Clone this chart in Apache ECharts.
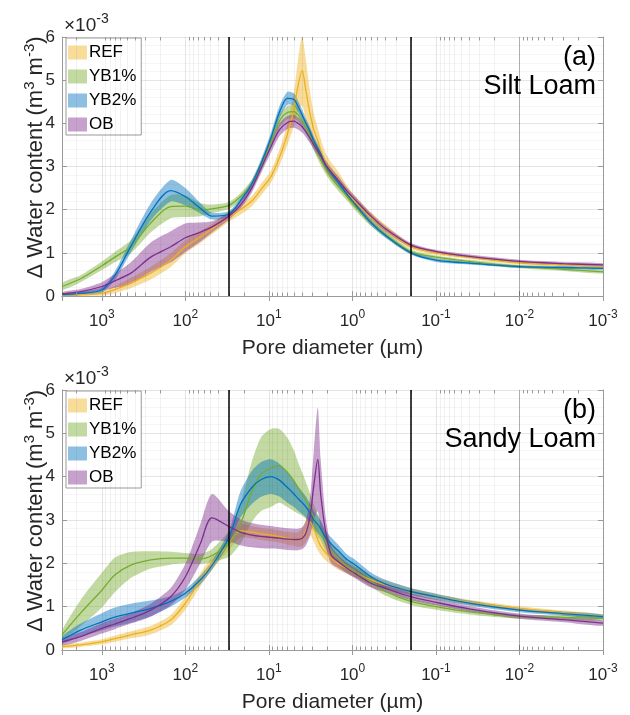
<!DOCTYPE html>
<html>
<head>
<meta charset="utf-8">
<script src="https://cdn.jsdelivr.net/npm/echarts/dist/echarts.min.js"></script>
<style>
  html, body { margin: 0; padding: 0; background: #fff; }
  #chart { width: 630px; height: 715px; }
</style>
</head>
<body>
<div id="chart"></div>
<script>
// pore diameter (µm) where the curves were read
const diameter = [3000, 1800, 1000, 700, 450, 260, 150, 100, 66, 48,
  30, 22, 16, 12.5, 9.5, 7.5, 6, 5, 4.5, 4,
  3.6, 3.2, 2.9, 2.6, 2.4, 2.1, 1.8, 1.5, 1.15, 0.95,
  0.6, 0.4, 0.2, 0.1, 0.04, 0.01, 0.003, 0.001]

// (a) Silt Loam, delta water content x1e-3, mean and spread
const siltRef = [0.02, 0.03, 0.06, 0.15, 0.30, 0.53, 0.83, 1.14, 1.37, 1.55,
  1.84, 2.00, 2.20, 2.46, 2.76, 3.20, 3.75, 4.35, 4.85, 5.22,
  4.75, 4.20, 3.85, 3.60, 3.38, 3.10, 2.90, 2.72, 2.40, 2.20,
  1.82, 1.55, 1.15, 1.00, 0.90, 0.77, 0.72, 0.68]
const siltRefSd = [0.02, 0.03, 0.05, 0.08, 0.12, 0.15, 0.16, 0.15, 0.14, 0.12,
  0.12, 0.12, 0.12, 0.13, 0.14, 0.18, 0.25, 0.40, 0.60, 0.80,
  0.70, 0.50, 0.38, 0.30, 0.26, 0.22, 0.20, 0.18, 0.15, 0.14,
  0.12, 0.10, 0.06, 0.05, 0.04, 0.04, 0.04, 0.04]
const siltYb1 = [0.22, 0.40, 0.70, 0.90, 1.14, 1.69, 2.07, 2.08, 2.00, 2.02,
  2.10, 2.30, 2.60, 3.00, 3.55, 4.05, 4.25, 4.27, 4.20, 4.05,
  3.90, 3.70, 3.50, 3.30, 3.15, 2.95, 2.75, 2.55, 2.30, 2.10,
  1.70, 1.42, 1.03, 0.90, 0.80, 0.68, 0.62, 0.56]
const siltYb1Sd = [0.08, 0.08, 0.10, 0.12, 0.15, 0.22, 0.27, 0.25, 0.15, 0.10,
  0.08, 0.08, 0.10, 0.12, 0.14, 0.15, 0.15, 0.15, 0.15, 0.15,
  0.14, 0.14, 0.13, 0.13, 0.12, 0.12, 0.11, 0.10, 0.10, 0.09,
  0.08, 0.07, 0.05, 0.04, 0.04, 0.04, 0.04, 0.04]
const siltYb2 = [0.03, 0.06, 0.14, 0.47, 1.15, 1.95, 2.44, 2.30, 2.03, 1.85,
  1.90, 2.20, 2.60, 3.05, 3.65, 4.25, 4.58, 4.55, 4.40, 4.20,
  4.00, 3.80, 3.60, 3.42, 3.30, 3.05, 2.85, 2.65, 2.35, 2.15,
  1.70, 1.40, 1.00, 0.83, 0.76, 0.68, 0.66, 0.64]
const siltYb2Sd = [0.03, 0.04, 0.06, 0.10, 0.14, 0.20, 0.25, 0.20, 0.12, 0.08,
  0.07, 0.07, 0.08, 0.10, 0.12, 0.14, 0.15, 0.14, 0.13, 0.12,
  0.11, 0.10, 0.10, 0.10, 0.09, 0.09, 0.08, 0.08, 0.07, 0.07,
  0.06, 0.05, 0.04, 0.04, 0.03, 0.03, 0.03, 0.03]
const siltOb = [0.05, 0.10, 0.22, 0.35, 0.53, 0.90, 1.14, 1.35, 1.48, 1.60,
  1.85, 2.10, 2.50, 2.95, 3.45, 3.85, 4.02, 4.05, 4.00, 3.92,
  3.80, 3.65, 3.50, 3.35, 3.25, 3.05, 2.88, 2.70, 2.42, 2.25,
  1.85, 1.55, 1.18, 1.03, 0.92, 0.80, 0.75, 0.72]
const siltObSd = [0.04, 0.06, 0.10, 0.16, 0.25, 0.34, 0.36, 0.33, 0.22, 0.13,
  0.08, 0.08, 0.10, 0.12, 0.14, 0.15, 0.15, 0.15, 0.14, 0.13,
  0.12, 0.12, 0.11, 0.11, 0.10, 0.10, 0.09, 0.09, 0.08, 0.08,
  0.07, 0.06, 0.05, 0.04, 0.04, 0.04, 0.04, 0.04]

// (b) Sandy Loam
const sandyRef = [0.08, 0.12, 0.19, 0.26, 0.35, 0.46, 0.69, 1.08, 1.62, 2.00,
  2.46, 2.75, 2.72, 2.68, 2.65, 2.62, 2.58, 2.56, 2.55, 2.60,
  2.75, 2.95, 2.80, 2.55, 2.40, 2.25, 2.12, 2.00, 1.88, 1.80,
  1.62, 1.50, 1.35, 1.23, 1.10, 0.96, 0.86, 0.77]
const sandyRefSd = [0.04, 0.05, 0.06, 0.07, 0.08, 0.10, 0.12, 0.15, 0.15, 0.15,
  0.15, 0.15, 0.14, 0.14, 0.14, 0.14, 0.15, 0.15, 0.17, 0.20,
  0.25, 0.30, 0.30, 0.25, 0.20, 0.18, 0.15, 0.14, 0.12, 0.12,
  0.10, 0.10, 0.08, 0.07, 0.06, 0.05, 0.05, 0.05]
const sandyYb1 = [0.35, 0.85, 1.38, 1.73, 1.96, 2.08, 2.12, 2.12, 2.10, 2.18,
  2.45, 2.90, 3.65, 4.05, 4.20, 4.25, 4.10, 3.90, 3.75, 3.60,
  3.45, 3.25, 3.05, 2.88, 2.75, 2.50, 2.30, 2.12, 1.92, 1.82,
  1.58, 1.35, 1.12, 1.00, 0.88, 0.77, 0.75, 0.73]
const sandyYb1Sd = [0.10, 0.30, 0.40, 0.40, 0.30, 0.20, 0.15, 0.12, 0.12, 0.15,
  0.30, 0.45, 0.70, 0.85, 0.90, 0.85, 0.80, 0.70, 0.60, 0.50,
  0.42, 0.35, 0.30, 0.25, 0.22, 0.20, 0.18, 0.15, 0.14, 0.13,
  0.12, 0.10, 0.08, 0.07, 0.06, 0.05, 0.05, 0.05]
const sandyYb2 = [0.23, 0.46, 0.65, 0.76, 0.85, 0.96, 1.12, 1.31, 1.62, 1.95,
  2.60, 3.35, 3.75, 3.93, 4.00, 3.92, 3.75, 3.60, 3.50, 3.40,
  3.30, 3.15, 3.00, 2.90, 2.80, 2.60, 2.45, 2.30, 2.08, 1.98,
  1.69, 1.52, 1.35, 1.23, 1.08, 0.92, 0.84, 0.77]
const sandyYb2Sd = [0.08, 0.15, 0.20, 0.22, 0.22, 0.18, 0.12, 0.10, 0.10, 0.10,
  0.15, 0.30, 0.38, 0.40, 0.40, 0.38, 0.35, 0.30, 0.28, 0.26,
  0.24, 0.22, 0.20, 0.20, 0.18, 0.16, 0.15, 0.14, 0.12, 0.12,
  0.10, 0.10, 0.08, 0.07, 0.06, 0.05, 0.05, 0.05]
const sandyOb = [0.19, 0.31, 0.50, 0.60, 0.73, 0.92, 1.23, 1.69, 2.46, 3.05,
  2.85, 2.72, 2.65, 2.62, 2.60, 2.58, 2.56, 2.55, 2.55, 2.58,
  2.70, 3.10, 3.80, 4.40, 3.60, 2.75, 2.20, 2.05, 1.88, 1.78,
  1.54, 1.42, 1.23, 1.10, 0.95, 0.78, 0.70, 0.62]
const sandyObSd = [0.08, 0.10, 0.12, 0.12, 0.12, 0.15, 0.20, 0.30, 0.45, 0.55,
  0.35, 0.30, 0.28, 0.27, 0.26, 0.25, 0.25, 0.25, 0.25, 0.25,
  0.28, 0.45, 0.80, 1.20, 0.80, 0.35, 0.20, 0.15, 0.12, 0.11,
  0.10, 0.09, 0.08, 0.07, 0.06, 0.06, 0.06, 0.06]

const names = ['REF', 'YB1%', 'YB2%', 'OB']
const colors = ['#EDB120', '#77AC30', '#0072BD', '#7E2F8E']
const xTickExp = [3, 2, 1, 0, -1, -2, -3]
const yTicks = [0, 1, 2, 3, 4, 5, 6]
const boundaries = [30, 0.2]
const panelTags = ['(a)', '(b)']
const panelSoils = ['Silt Loam', 'Sandy Loam']

const font = 'Liberation Sans'
const axisGray = '#9a9a9a'
const textColor = '#262626'
const gridTops = [37, 390]
const gridHeights = [259, 260]

function fade(hex, a) {
  const n = parseInt(hex.slice(1), 16)
  return 'rgba(' + (n >> 16) + ',' + ((n >> 8) & 255) + ',' + (n & 255) + ',' + a + ')'
}

function toPairs(values) {
  return diameter.map((d, i) => [d, values[i]])
}

// minor decade positions (2..9 x 10^k) for the faint grid and small ticks
const minorX = []
for (let k = -3; k <= 3; k++) {
  for (let m = 2; m <= 9; m++) {
    const v = m * Math.pow(10, k)
    if (v < 3000) minorX.push(v)
  }
}

function decadeLabel(value) {
  const lg = Math.log10(value)
  const e = Math.round(lg)
  if (Math.abs(lg - e) > 1e-6 || xTickExp.indexOf(e) < 0) return ''
  return '{b|10}{s|' + e + '}'
}

function curveSeries(panel, k, mean, sd) {
  const axes = { xAxisIndex: panel * 2, yAxisIndex: panel * 2 }
  const band = {
    type: 'custom',
    name: names[k],
    silent: true,
    clip: true,
    data: toPairs(mean),
    renderItem(params, api) {
      if (params.dataIndex !== 0) return null
      const upper = diameter.map((d, i) => api.coord([d, mean[i] + sd[i]]))
      const lower = diameter.map((d, i) => api.coord([d, Math.max(0, mean[i] - sd[i])]))
      return {
        type: 'polygon',
        shape: { points: upper.concat(lower.reverse()), smooth: 0.25 },
        style: { fill: fade(colors[k], 0.45) }
      }
    }
  }
  const line = {
    type: 'line',
    name: names[k] + ' mean',
    silent: true,
    symbol: 'none',
    smooth: 0.3,
    data: toPairs(mean),
    lineStyle: { color: colors[k], width: 1.3 }
  }
  return [Object.assign(band, axes), Object.assign(line, axes)]
}

function helperSeries(panel) {
  const base = { type: 'line', xAxisIndex: panel * 2, yAxisIndex: panel * 2, data: [], silent: true }
  const ticks = []
  minorX.forEach(v => {
    ticks.push([{ coord: [v, yTicks[0]] }, { coord: [v, 0.08] }])
    ticks.push([{ coord: [v, yTicks[yTicks.length - 1]] }, { coord: [v, 5.92] }])
  })
  return [
    Object.assign({}, base, {
      name: 'minor grid ' + panel, z: 1,
      markLine: {
        silent: true, symbol: ['none', 'none'], label: { show: false },
        lineStyle: { color: 'rgba(0,0,0,0.05)', type: 'solid', width: 1 },
        data: minorX.map(v => ({ xAxis: v }))
      }
    }),
    Object.assign({}, base, {
      name: 'minor ticks ' + panel, z: 3,
      markLine: {
        silent: true, symbol: ['none', 'none'], label: { show: false },
        lineStyle: { color: axisGray, type: 'solid', width: 1 },
        data: ticks
      }
    }),
    Object.assign({}, base, {
      name: 'boundaries ' + panel, z: 4,
      markLine: {
        silent: true, symbol: ['none', 'none'], label: { show: false },
        lineStyle: { color: '#000', type: 'solid', width: 1.5 },
        data: boundaries.map(v => ({ xAxis: v }))
      }
    })
  ]
}

function xAxes(panel) {
  const common = {
    type: 'log', logBase: 10, min: 0.001, max: 3000, inverse: true,
    gridIndex: panel, splitNumber: 7,
    axisLine: { show: true, lineStyle: { color: axisGray, width: 1 } },
    axisTick: { show: true, inside: true, length: 5, lineStyle: { color: axisGray } }
  }
  return [
    Object.assign({}, common, {
      position: 'bottom',
      name: 'Pore diameter (µm)', nameLocation: 'middle', nameGap: 42, nameMoveOverlap: false,
      nameTextStyle: { fontSize: 21, color: textColor, fontFamily: font },
      splitLine: { show: true, lineStyle: { color: 'rgba(0,0,0,0.1)' } },
      axisLabel: {
        margin: 13,
        formatter: decadeLabel,
        rich: {
          b: { fontSize: 17, color: textColor, fontFamily: font },
          s: { fontSize: 12, color: textColor, fontFamily: font, padding: [0, 0, 12, 0] }
        }
      }
    }),
    Object.assign({}, common, {
      position: 'top', axisLabel: { show: false }, splitLine: { show: false }
    })
  ]
}

function yAxes(panel) {
  const common = {
    type: 'value', gridIndex: panel,
    min: yTicks[0], max: yTicks[yTicks.length - 1], interval: 1,
    axisLine: { show: true, lineStyle: { color: axisGray, width: 1 } },
    axisTick: { show: true, inside: true, length: 5, lineStyle: { color: axisGray } }
  }
  return [
    Object.assign({}, common, {
      position: 'left',
      name: '{t|Δ Water content (m}{s|3}{t| m}{s|-3}{t|)}',
      nameLocation: 'middle', nameGap: 13, nameRotate: 90, nameMoveOverlap: false,
      nameTextStyle: {
        padding: [0, 0, 0, 18],
        rich: {
          t: { fontSize: 22, color: textColor, fontFamily: font },
          s: { fontSize: 15, color: textColor, fontFamily: font, padding: [0, 0, 12, 0] }
        }
      },
      axisLabel: { fontSize: 17, color: textColor, fontFamily: font, margin: 7 },
      splitLine: { show: true, lineStyle: { color: 'rgba(0,0,0,0.1)' } },
      minorTick: { show: false, splitNumber: 5 },
      minorSplitLine: { show: true, lineStyle: { color: 'rgba(0,0,0,0.04)' } }
    }),
    Object.assign({}, common, {
      position: 'right', axisLabel: { show: false }, splitLine: { show: false }
    })
  ]
}

function legendFor(panel) {
  return {
    orient: 'vertical',
    left: 66,
    top: gridTops[panel] + 1,
    icon: 'rect',
    itemWidth: 19,
    itemHeight: 14,
    itemGap: 7,
    padding: [6, 5, 2, 2],
    borderColor: '#999',
    borderWidth: 1,
    backgroundColor: '#fff',
    selectedMode: false,
    textStyle: { fontSize: 17, color: '#000', fontFamily: font, padding: [0, 0, 0, -3] },
    data: names.map((n, k) => ({ name: n, itemStyle: { color: fade(colors[k], 0.45) } }))
  }
}

function panelText(panel) {
  const top = gridTops[panel]
  return [
    {
      type: 'text', left: 64, top: top - 25,
      style: {
        text: '{a|×10}{b|-3}', fill: textColor,
        rich: {
          a: { fontSize: 19, fontFamily: font, fill: textColor },
          b: { fontSize: 14, fontFamily: font, fill: textColor, padding: [0, 0, 13, 0] }
        }
      }
    },
    {
      type: 'text', x: 596, y: top + 21,
      style: { text: panelTags[panel], fontSize: 27, fontFamily: font, fill: '#000', align: 'right', verticalAlign: 'middle' }
    },
    {
      type: 'text', x: 596, y: top + 50,
      style: { text: panelSoils[panel], fontSize: 27, fontFamily: font, fill: '#000', align: 'right', verticalAlign: 'middle' }
    }
  ]
}

const chart = echarts.init(document.getElementById('chart'), null, { renderer: 'canvas' })

const series = [].concat(
  helperSeries(0),
  curveSeries(0, 0, siltRef, siltRefSd),
  curveSeries(0, 1, siltYb1, siltYb1Sd),
  curveSeries(0, 2, siltYb2, siltYb2Sd),
  curveSeries(0, 3, siltOb, siltObSd),
  helperSeries(1),
  curveSeries(1, 0, sandyRef, sandyRefSd),
  curveSeries(1, 1, sandyYb1, sandyYb1Sd),
  curveSeries(1, 2, sandyYb2, sandyYb2Sd),
  curveSeries(1, 3, sandyOb, sandyObSd)
)

chart.setOption({
  animation: false,
  backgroundColor: '#fff',
  textStyle: { fontFamily: font },
  grid: [
    { left: 62, right: 27, top: gridTops[0], height: gridHeights[0] },
    { left: 62, right: 27, top: gridTops[1], height: gridHeights[1] }
  ],
  xAxis: [].concat(xAxes(0), xAxes(1)),
  yAxis: [].concat(yAxes(0), yAxes(1)),
  legend: [legendFor(0), legendFor(1)],
  graphic: [].concat(panelText(0), panelText(1)),
  series: series
})
</script>
</body>
</html>
